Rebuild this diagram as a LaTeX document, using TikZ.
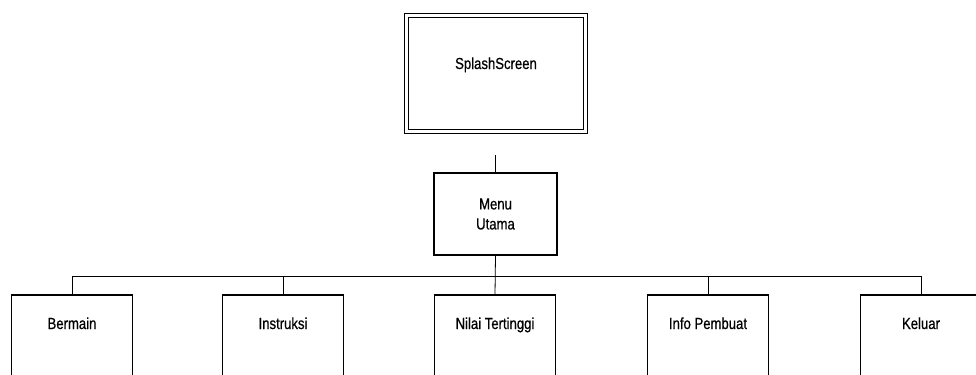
\documentclass[tikz,border=0pt]{standalone}
\usepackage{fontspec}
\setmainfont{Liberation Sans}[FakeStretch=0.82, FakeBold=0.6]
\usetikzlibrary{positioning}

\begin{document}
\begin{tikzpicture}[
    x=1bp, y=-1bp,
    font=\fontsize{16bp}{20bp}\selectfont,
    box/.style={draw, line width=1.5pt, outer sep=0pt, inner sep=0pt,
                align=center},
    splashbox/.style={box, double, double distance=2.2pt,
                      minimum width=179bp, minimum height=116bp,
                      text height=12bp, text depth=21bp},
    menubox/.style={box, minimum width=123bp, minimum height=82bp},
    leaf/.style={box, minimum width=121bp, text height=12bp,
                 text depth=60bp, inner ysep=22bp},
    link/.style={draw, line width=0.8pt}
  ]
  \useasboundingbox (0,0) rectangle (976,374);
  \clip (0,0) rectangle (976,374);

  \node[splashbox] (splash) at (496,73.5) {SplashScreen};
  \node[menubox] (menu) at (495.5,214) {Menu\\Utama};

  \node[leaf, anchor=north] (nilai) at (495,295) {Nilai Tertinggi};
  \node[leaf, left=91bp of nilai] (instruksi) {Instruksi};
  \node[leaf, left=90bp of instruksi] (bermain) {Bermain};
  \node[leaf, right=92bp of nilai] (info) {Info Pembuat};
  \node[leaf, right=92bp of info] (keluar) {Keluar};

  \coordinate (tail) at (495.5,155);
  \coordinate (bus) at (0,276);

  \draw[link] (tail) -- (menu.north);
  \draw[link] (menu.south) -- (nilai.north);
  \draw[link] (bermain.north) |- (keluar.north |- bus) -- (keluar.north);
  \foreach \n in {instruksi, info}
    \draw[link] (\n.north) -- (\n.north |- bus);
\end{tikzpicture}
\end{document}
